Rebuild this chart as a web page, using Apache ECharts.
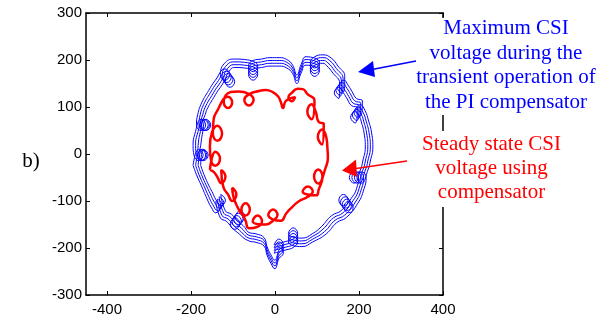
<!DOCTYPE html>
<html>
<head>
<meta charset="utf-8">
<script src="https://cdn.jsdelivr.net/npm/echarts@6/dist/echarts.min.js"></script>
<style>
html, body { margin: 0; padding: 0; background: #fff; }
#chart { width: 605px; height: 326px; }
</style>
</head>
<body>
<div id="chart"></div>
<script>
// tick labels
var xTicks = [-400, -200, 0, 200, 400]
var yTicks = [-300, -200, -100, 0, 100, 200, 300]

// steady state trajectory (red)
var steadyState = [
  [-155, -34],
  [-142, 5], [-131, -10], [-142, -25], [-153, -10],
  [-155, 16],
  [-137, 60], [-126, 44], [-137, 28], [-148, 44],
  [-146, 74], [-140, 88],
  [-112, 122], [-102, 110], [-112, 98], [-122, 110],
  [-105, 132], [-88, 133],
  [-51, 115], [-62, 103], [-73, 115], [-62, 127],
  [-38, 134], [-22, 136], [-6, 132], [7, 123], [14, 110], [19, 98],
  [26, 113],
  [48, 121], [40, 112], [32, 121], [40, 130],
  [54, 139], [66, 138], [78, 127],
  [94, 114],
  [87, 74], [77, 90], [87, 106], [97, 90],
  [104, 68], [116, 64],
  [112, 20], [102, 36], [112, 52], [122, 36],
  [125, 10], [126, -8], [121, -28],
  [103, -63], [93, -48], [103, -33], [113, -48],
  [104, -76], [98, -88],
  [66, -80], [78, -69], [90, -80], [78, -91],
  [56, -101], [42, -112], [27, -126], [14, -142],
  [-16, -130], [-5, -118], [6, -130], [-5, -142],
  [-22, -150],
  [-53, -143], [-42, -131], [-31, -143], [-42, -155],
  [-62, -158], [-70, -142],
  [-80, -118], [-70, -105], [-60, -118], [-70, -131],
  [-92, -108],
  [-102, -72], [-92, -86], [-102, -100], [-112, -86],
  [-123, -70],
  [-128, -34], [-118, -48], [-128, -62], [-138, -48],
  [-146, -38], [-155, -34]
]

// transient trajectories (blue), inner to outer
var transient1 = [
  [-177, -24], [-170, 10], [-159, -2], [-170, -14], [-181, -2], [-177, 18],
  [-173, 42], [-164, 74], [-153, 62], [-164, 50], [-175, 62], [-166, 84],
  [-162, 95], [-146, 120], [-130, 142], [-107, 166], [-96, 154], [-107, 142],
  [-118, 154], [-106, 180], [-95, 184], [-72, 183], [-41, 169], [-52, 157],
  [-63, 169], [-52, 181], [-32, 184], [-12, 187], [10, 187], [28, 183],
  [42, 171], [52, 150], [62, 172], [74, 189], [106, 177], [95, 165],
  [84, 177], [95, 189], [114, 193], [122, 189], [138, 172], [154, 150],
  [152, 118], [141, 130], [152, 142], [163, 130], [172, 117], [182, 103],
  [196, 98], [191, 66], [180, 78], [191, 90], [202, 78], [205, 70],
  [212, 45], [215, 15], [209, -15], [204, -32], [188, -62], [177, -50],
  [188, -38], [199, -50], [194, -74], [185, -90], [163, -110], [152, -98],
  [163, -86], [174, -98], [158, -120], [135, -131], [110, -155], [90, -169],
  [64, -179], [32, -169], [43, -157], [54, -169], [43, -181], [26, -186],
  [-2, -193], [9, -181], [20, -193], [9, -205], [4, -220], [0, -226],
  [-10, -214], [-19, -197], [-26, -178], [-45, -170], [-62, -167], [-72, -156],
  [-94, -133], [-83, -121], [-72, -133], [-83, -145], [-104, -128], [-118, -121],
  [-129, -86], [-118, -98], [-129, -110], [-140, -98], [-150, -80], [-157, -68],
  [-169, -44], [-177, -24]
]
var transient2 = [
  [-183, -24], [-173, 10], [-162, -2], [-173, -14], [-184, -2], [-183, 18],
  [-179, 42], [-167, 74], [-156, 62], [-167, 50], [-178, 62], [-172, 84],
  [-166, 100], [-150, 125], [-134, 147], [-111, 171], [-100, 159], [-111, 147],
  [-122, 159], [-110, 185], [-95, 190], [-72, 189], [-41, 175], [-52, 163],
  [-63, 175], [-52, 187], [-32, 190], [-12, 193], [10, 193], [28, 189],
  [42, 177], [52, 156], [62, 178], [74, 195], [106, 183], [95, 171],
  [84, 183], [95, 195], [114, 199], [126, 194], [142, 177], [158, 155],
  [156, 123], [145, 135], [156, 147], [167, 135], [176, 122], [186, 108],
  [200, 103], [195, 71], [184, 83], [195, 95], [206, 83], [211, 70],
  [218, 45], [221, 15], [215, -15], [210, -32], [194, -62], [183, -50],
  [194, -38], [205, -50], [200, -74], [189, -95], [167, -115], [156, -103],
  [167, -91], [178, -103], [162, -125], [139, -136], [114, -160], [90, -175],
  [64, -185], [32, -175], [43, -163], [54, -175], [43, -187], [26, -192],
  [-2, -199], [9, -187], [20, -199], [9, -211], [4, -226], [0, -232],
  [-10, -220], [-19, -203], [-26, -184], [-45, -176], [-62, -173], [-76, -161],
  [-98, -138], [-87, -126], [-76, -138], [-87, -150], [-108, -133], [-122, -126],
  [-133, -91], [-122, -103], [-133, -115], [-144, -103], [-154, -85], [-163, -68],
  [-175, -44], [-183, -24]
]
var transient3 = [
  [-189, -24], [-176, 10], [-165, -2], [-176, -14], [-187, -2], [-189, 18],
  [-185, 42], [-170, 74], [-159, 62], [-170, 50], [-181, 62], [-178, 84],
  [-170, 105], [-154, 130], [-138, 152], [-115, 176], [-104, 164], [-115, 152],
  [-126, 164], [-114, 190], [-95, 196], [-72, 195], [-41, 181], [-52, 169],
  [-63, 181], [-52, 193], [-32, 196], [-12, 199], [10, 199], [28, 195],
  [42, 183], [52, 162], [62, 184], [74, 201], [106, 189], [95, 177],
  [84, 189], [95, 201], [114, 205], [130, 199], [146, 182], [162, 160],
  [160, 128], [149, 140], [160, 152], [171, 140], [180, 127], [190, 113],
  [204, 108], [199, 76], [188, 88], [199, 100], [210, 88], [217, 70],
  [224, 45], [227, 15], [221, -15], [216, -32], [200, -62], [189, -50],
  [200, -38], [211, -50], [206, -74], [193, -100], [171, -120], [160, -108],
  [171, -96], [182, -108], [166, -130], [143, -141], [118, -165], [90, -181],
  [64, -191], [32, -181], [43, -169], [54, -181], [43, -193], [26, -198],
  [-2, -205], [9, -193], [20, -205], [9, -217], [4, -232], [0, -238],
  [-10, -226], [-19, -209], [-26, -190], [-45, -182], [-62, -179], [-80, -166],
  [-102, -143], [-91, -131], [-80, -143], [-91, -155], [-112, -138], [-126, -131],
  [-137, -96], [-126, -108], [-137, -120], [-148, -108], [-158, -90], [-169, -68],
  [-181, -44], [-189, -24]
]
var transient4 = [
  [-195, -24], [-182, 10], [-171, -2], [-182, -14], [-193, -2], [-195, 18],
  [-191, 42], [-176, 74], [-165, 62], [-176, 50], [-187, 62], [-184, 84],
  [-174, 110], [-158, 135], [-142, 157], [-119, 181], [-108, 169], [-119, 157],
  [-130, 169], [-118, 195], [-95, 202], [-72, 201], [-41, 187], [-52, 175],
  [-63, 187], [-52, 199], [-32, 202], [-12, 205], [10, 205], [28, 201],
  [42, 189], [52, 168], [62, 190], [74, 207], [106, 195], [95, 183],
  [84, 195], [95, 207], [114, 211], [134, 204], [150, 187], [166, 165],
  [164, 133], [153, 145], [164, 157], [175, 145], [184, 132], [194, 118],
  [208, 113], [203, 81], [192, 93], [203, 105], [214, 93], [223, 70],
  [230, 45], [233, 15], [227, -15], [222, -32], [206, -62], [195, -50],
  [206, -38], [217, -50], [212, -74], [197, -105], [175, -125], [164, -113],
  [175, -101], [186, -113], [170, -135], [147, -146], [122, -170], [90, -187],
  [64, -197], [32, -187], [43, -175], [54, -187], [43, -199], [26, -204],
  [-2, -211], [9, -199], [20, -211], [9, -223], [4, -238], [0, -244],
  [-10, -232], [-19, -215], [-26, -196], [-45, -188], [-62, -185], [-84, -171],
  [-106, -148], [-95, -136], [-84, -148], [-95, -160], [-116, -143], [-130, -136],
  [-141, -101], [-130, -113], [-141, -125], [-152, -113], [-162, -95], [-175, -68],
  [-187, -44], [-195, -24]
]

var blueTraces = [transient1, transient2, transient3, transient4]

var frameLine = { onZero: false, lineStyle: { color: '#000', width: 1.5 } }
var tickStyle = { color: '#000', width: 1 }
var labelFont = { color: '#000', fontSize: 15, fontFamily: 'Liberation Sans' }

var series = blueTraces.map(function (d, i) {
  return {
    name: 'transient ' + (i + 1),
    type: 'line',
    data: d,
    smooth: 0.5,
    showSymbol: false,
    lineStyle: { color: '#0000ff', width: 1 },
    z: 2
  }
})
series.push({
  name: 'steady state',
  type: 'line',
  data: steadyState,
  smooth: 0.5,
  showSymbol: false,
  lineStyle: { color: '#ff0000', width: 2.5 },
  z: 3
})

function textLine(str, x, y, color) {
  return {
    type: 'text',
    z: 101,
    style: {
      text: str, x: x, y: y, fill: color,
      fontSize: 21, fontFamily: 'Liberation Serif',
      align: 'center', verticalAlign: 'middle'
    }
  }
}

var chart = echarts.init(document.getElementById('chart'))

chart.setOption({
  animation: false,
  grid: { left: 86, right: 162, top: 13, bottom: 31 },
  xAxis: [
    {
      type: 'value', min: -450, max: 400, position: 'bottom',
      axisLine: frameLine,
      axisTick: { show: true, inside: true, length: 4, customValues: xTicks, lineStyle: tickStyle },
      axisLabel: Object.assign({ customValues: xTicks, margin: 7 }, labelFont),
      splitLine: { show: false }
    },
    {
      type: 'value', min: -450, max: 400, position: 'top',
      axisLine: frameLine,
      axisTick: { show: true, inside: true, length: 4, customValues: xTicks, lineStyle: tickStyle },
      axisLabel: { show: false },
      splitLine: { show: false }
    }
  ],
  yAxis: [
    {
      type: 'value', min: -300, max: 300, interval: 100, position: 'left',
      axisLine: Object.assign({ show: true }, frameLine),
      axisTick: { show: true, inside: true, length: 4, customValues: yTicks, lineStyle: tickStyle },
      axisLabel: Object.assign({ customValues: yTicks, margin: 4 }, labelFont),
      splitLine: { show: false }
    },
    {
      type: 'value', min: -300, max: 300, interval: 100, position: 'right',
      axisLine: Object.assign({ show: true }, frameLine),
      axisTick: { show: true, inside: true, length: 4, customValues: yTicks, lineStyle: tickStyle },
      axisLabel: { show: false },
      splitLine: { show: false }
    }
  ],
  series: series,
  graphic: [
    { type: 'rect', z: 100, shape: { x: 412, y: 18, width: 193, height: 97 }, style: { fill: '#fff' } },
    { type: 'rect', z: 100, shape: { x: 412, y: 131, width: 170, height: 76 }, style: { fill: '#fff' } },
    textLine('Maximum CSI', 506, 28, '#0000ff'),
    textLine('voltage during the', 506, 53, '#0000ff'),
    textLine('transient operation of', 506, 77.5, '#0000ff'),
    textLine('the PI compensator', 506, 102, '#0000ff'),
    textLine('Steady state CSI', 491.5, 144, '#ff0000'),
    textLine('voltage using', 491.5, 168, '#ff0000'),
    textLine('compensator', 491.5, 192, '#ff0000'),
    textLine('b)', 31, 161, '#000'),
    { type: 'line', z: 102, shape: { x1: 416, y1: 61, x2: 372, y2: 69.5 }, style: { stroke: '#0000ff', lineWidth: 1.5 } },
    { type: 'polygon', z: 102, shape: { points: [[358, 72], [373, 61], [375, 77]] }, style: { fill: '#0000ff' } },
    { type: 'line', z: 102, shape: { x1: 407, y1: 161, x2: 356, y2: 168.5 }, style: { stroke: '#ff0000', lineWidth: 1.5 } },
    { type: 'polygon', z: 102, shape: { points: [[342, 170.5], [356, 159.5], [357, 177]] }, style: { fill: '#ff0000' } }
  ]
})
</script>
</body>
</html>
